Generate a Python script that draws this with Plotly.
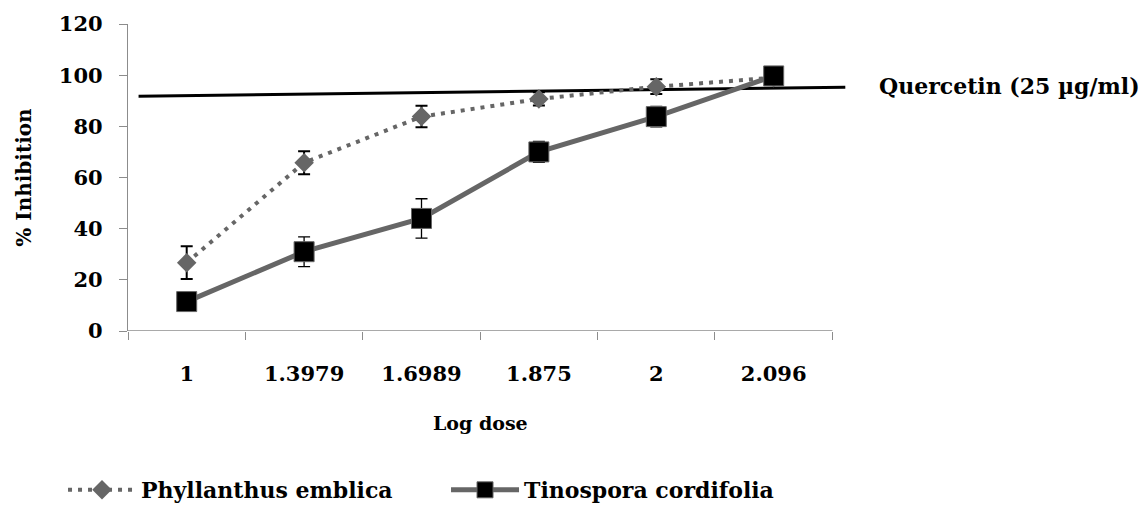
import plotly.graph_objects as go

log_dose = ["1", "1.3979", "1.6989", "1.875", "2", "2.096"]
phyllanthus = [26.7, 65.8, 83.8, 90.7, 95.5, 99.0]
phyllanthus_err = [6.4, 4.5, 4.2, 2.6, 2.9, 1.0]
tinospora = [11.5, 31.0, 44.0, 70.0, 83.8, 99.7]
tinospora_err = [2.0, 5.8, 7.7, 4.1, 4.0, 1.0]
quercetin_x = [-0.41, 5.61]
quercetin_y = [91.75, 95.3]
y_ticks = [0, 20, 40, 60, 80, 100, 120]

pos = list(range(len(log_dose)))
FONT = "DejaVu Serif"
GRAY_AX = "#8c8c8c"

fig = go.Figure()
fig.add_trace(go.Scatter(
    x=quercetin_x, y=quercetin_y, mode="lines",
    line=dict(color="black", width=3), showlegend=False, hoverinfo="skip"))
fig.add_trace(go.Scatter(
    x=pos, y=phyllanthus, mode="lines+markers", name="Phyllanthus emblica",
    line=dict(color="#666666", width=4, dash="4px,6px"),
    marker=dict(symbol="diamond", size=15, color="#666666"),
    error_y=dict(type="data", array=phyllanthus_err, color="black", thickness=2, width=6)))
fig.add_trace(go.Scatter(
    x=pos, y=tinospora, mode="lines+markers", name="Tinospora cordifolia",
    line=dict(color="#666666", width=5),
    marker=dict(symbol="square", size=20, color="black", line=dict(color="#666666", width=1)),
    error_y=dict(type="data", array=tinospora_err, color="black", thickness=1.3, width=6)))

fig.add_shape(type="line", xref="x", yref="y", x0=-0.5, x1=5.5, y0=0, y1=0,
              line=dict(color=GRAY_AX, width=1.3), layer="below")

fig.add_annotation(x=1.038, y=0.798, xref="paper", yref="paper", text="Quercetin (25 µg/ml)",
                   showarrow=False, xanchor="left", yanchor="middle",
                   font=dict(family=FONT, size=22, color="black", weight="bold"))
fig.add_annotation(x=2.5, y=-0.30, xref="x", yref="paper", text="Log dose",
                   showarrow=False, xanchor="center", yanchor="middle",
                   font=dict(family=FONT, size=19, color="black", weight="bold"))

fig.update_layout(
    width=1141, height=505,
    margin=dict(l=128, r=291, t=24, b=174, autoexpand=False),
    plot_bgcolor="white", paper_bgcolor="white",
    font=dict(family=FONT, color="black"),
    xaxis=dict(range=[-0.5, 5.65], tickvals=pos, ticktext=log_dose, automargin=False,
               showline=False, zeroline=False, showgrid=False, ticks="",
               ticklabelstandoff=28,
               tickfont=dict(family=FONT, size=21, color="black", weight="bold"),
               minor=dict(tickvals=[p - 0.5 for p in pos] + [pos[-1] + 0.5],
                          ticks="outside", ticklen=8, tickcolor=GRAY_AX, tickwidth=1.3)),
    yaxis=dict(range=[0, 120], tickvals=y_ticks, showline=True, linecolor=GRAY_AX, linewidth=1.3,
               automargin=False,
               zeroline=False, showgrid=False, ticks="outside", ticklen=8, tickcolor=GRAY_AX,
               tickwidth=1.3, ticklabelstandoff=12,
               tickfont=dict(family=FONT, size=21, color="black", weight="bold"),
               title=dict(text="% Inhibition", standoff=21,
                          font=dict(family=FONT, size=20, color="black", weight="bold"))),
    legend=dict(orientation="h", x=-0.09, xanchor="left", y=-0.518, yanchor="middle",
                itemwidth=68, entrywidth=300, entrywidthmode="pixels",
                font=dict(family=FONT, size=22, color="black", weight="bold")),
)

fig.write_html("out.html")
